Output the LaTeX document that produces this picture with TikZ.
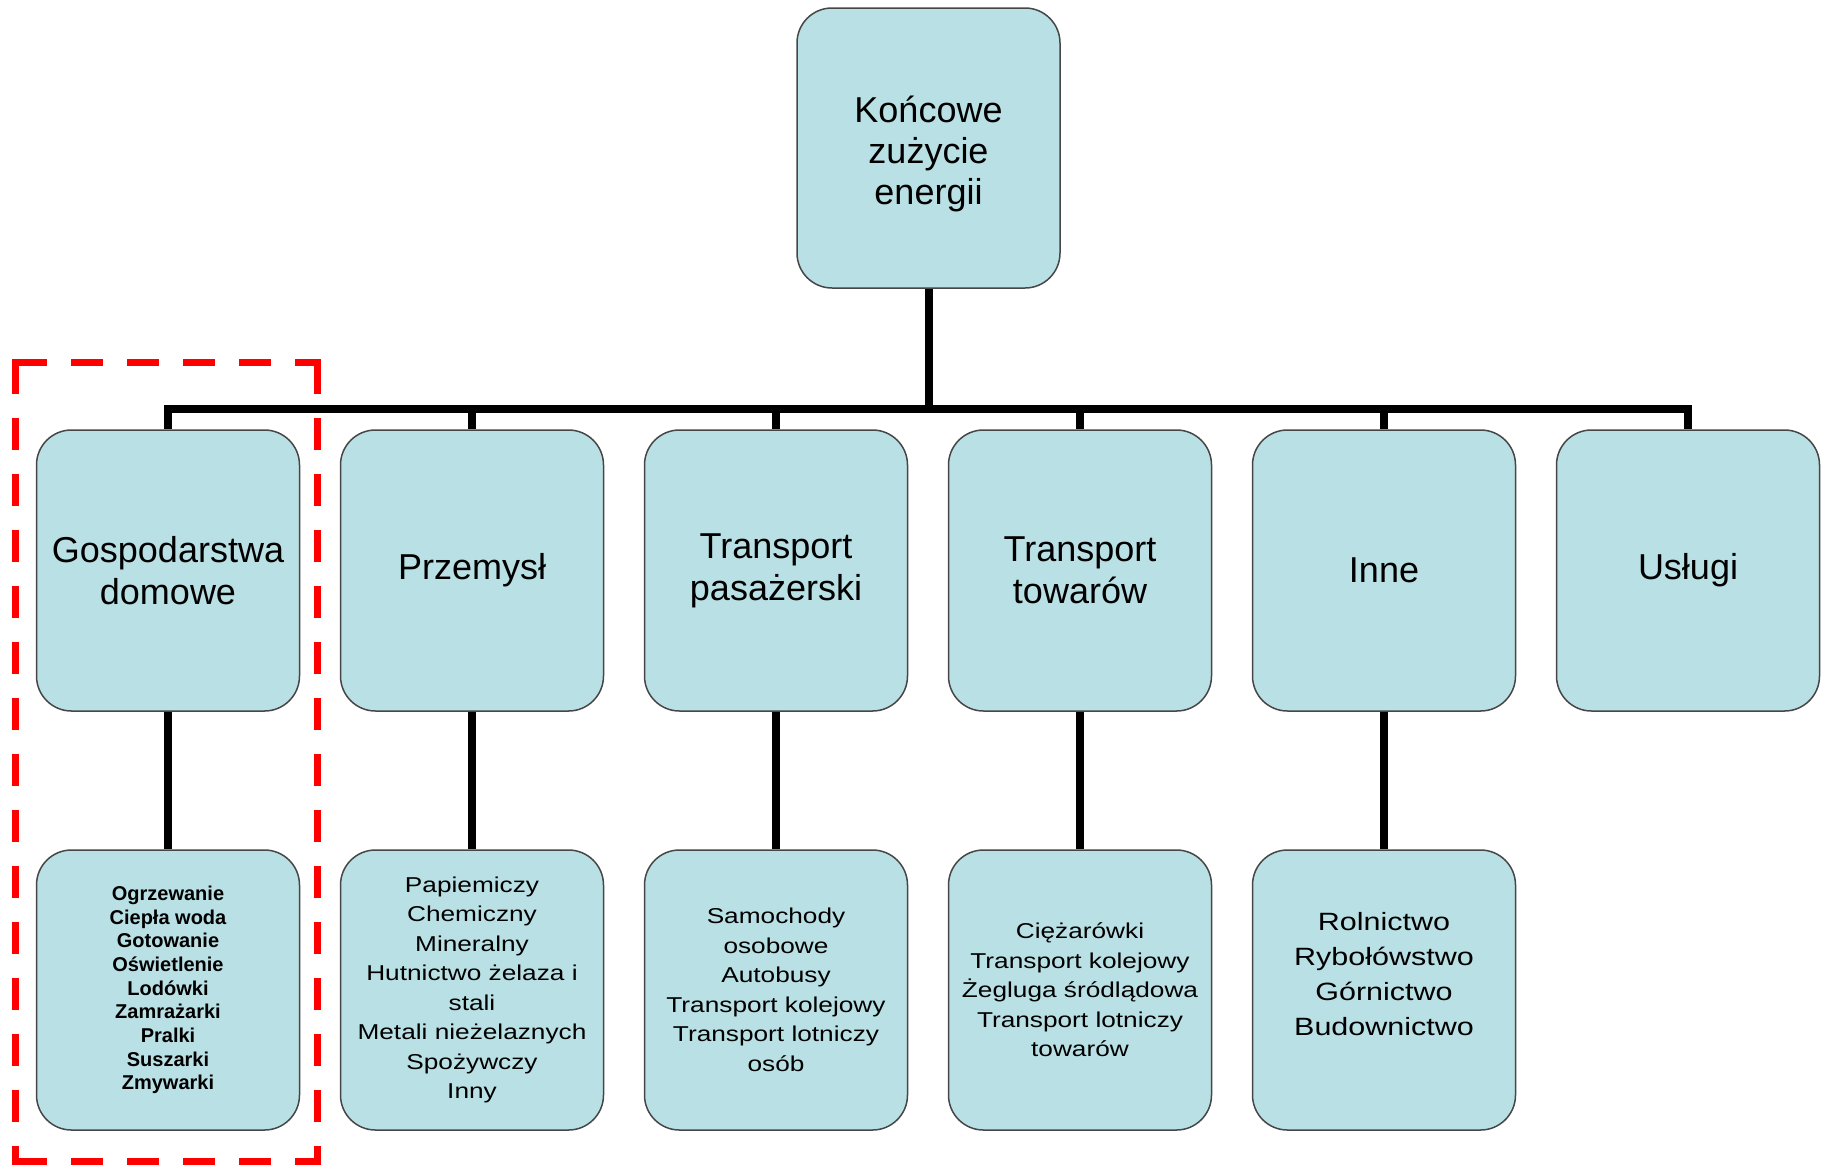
\documentclass[tikz,border=0pt]{standalone}
\usepackage{fontspec}
\setmainfont{Liberation Sans}
\newfontfamily\widefont[FakeStretch=1.22]{Liberation Sans}
\definecolor{boxfill}{RGB}{185,224,228}
\definecolor{boxline}{RGB}{70,70,70}
\definecolor{framered}{RGB}{255,0,0}
\begin{document}
\begin{tikzpicture}[x=1pt,y=-1pt,
  box/.style={draw=boxline, line width=1.5pt, fill=boxfill, rounded corners=35pt,
    minimum width=263pt, minimum height=281pt, inner sep=0pt, align=center, text=black},
  bigtxt/.style={font=\fontsize{36}{42}\selectfont},
  toptxt/.style={font=\fontsize{36}{40.7}\selectfont, align=center, inner sep=0pt},
  smalltxt/.style={font=\widefont\fontsize{21.5}{29.5}\selectfont},
  innetxt/.style={font=\widefont\fontsize{25}{35}\selectfont, align=center, inner sep=0pt},
  tinytxt/.style={font=\bfseries\fontsize{20}{23.7}\selectfont},
  conn/.style={line width=8pt, line join=miter, line cap=butt},
  frameline/.style={draw=framered, line width=7pt, line cap=butt, dash pattern=on 31.5pt off 24.5pt}
]
\useasboundingbox (0,0) rectangle (1825,1165);

\coordinate (bar) at (928.5,409);
\coordinate (barL) at (168,409);
\coordinate (barR) at (1688,409);

% boxes
\node[box, minimum height=280pt] (top) at (928.5,148) {};
\node[toptxt] (toptext) at (928.5,154) {Końcowe\\zużycie\\energii};

\node[box, bigtxt] (gd) at (168,570.5) {Gospodarstwa\\domowe};
\node[box, bigtxt] (pr) at (472,570.5) {Przemysł};
\node[box, bigtxt] (tp) at (776,570.5) {Transport\\pasażerski};
\node[box, bigtxt] (tt) at (1080,570.5) {Transport\\towarów};
\node[box, bigtxt] (in) at (1384,570.5) {Inne};
\node[box, bigtxt] (us) at (1688,570.5) {Usługi};

\node[box, tinytxt, minimum height=280pt] (gdl) at (168,990) {Ogrzewanie\\Ciepła woda\\Gotowanie\\Oświetlenie\\Lodówki\\Zamrażarki\\Pralki\\Suszarki\\Zmywarki};
\node[box, smalltxt, minimum height=280pt] (prl) at (472,990) {Papiemiczy\\Chemiczny\\Mineralny\\Hutnictwo żelaza i\\stali\\Metali nieżelaznych\\Spożywczy\\Inny};
\node[box, smalltxt, minimum height=280pt] (tpl) at (776,990) {Samochody\\osobowe\\Autobusy\\Transport kolejowy\\Transport lotniczy\\osób};
\node[box, smalltxt, minimum height=280pt] (ttl) at (1080,990) {Ciężarówki\\Transport kolejowy\\Żegluga śródlądowa\\Transport lotniczy\\towarów};
\node[box, minimum height=280pt] (inl) at (1384,990) {};
\node[innetxt] (inltxt) at (1384,974) {Rolnictwo\\Rybołówstwo\\Górnictwo\\Budownictwo};

% connectors
\draw[conn] (top.south) -- (bar);
\draw[conn] (barL) -- (barR);
\foreach \c in {gd,pr,tp,tt,in,us}{
  \draw[conn] (bar) -| (\c.north);
}
\draw[conn] (gd.south) -- (gdl.north);
\draw[conn] (pr.south) -- (prl.north);
\draw[conn] (tp.south) -- (tpl.north);
\draw[conn] (tt.south) -- (ttl.north);
\draw[conn] (in.south) -- (inl.north);

% red dashed frame
\coordinate (fTL) at (15,362);
\coordinate (fTR) at (317,362);
\coordinate (fBL) at (15,1161);
\coordinate (fBR) at (317,1161);
\draw[frameline] (fTL) -- (fTR);
\draw[frameline] (fBL) -- (fBR);
\draw[frameline] (fTL) -- (fBL);
\draw[frameline] (fTR) -- (fBR);
\foreach \p in {fTL,fTR,fBL,fBR}{
  \fill[framered] ([shift={(-3.5,-3.5)}]\p) rectangle ([shift={(3.5,3.5)}]\p);
}
\end{tikzpicture}
\end{document}
